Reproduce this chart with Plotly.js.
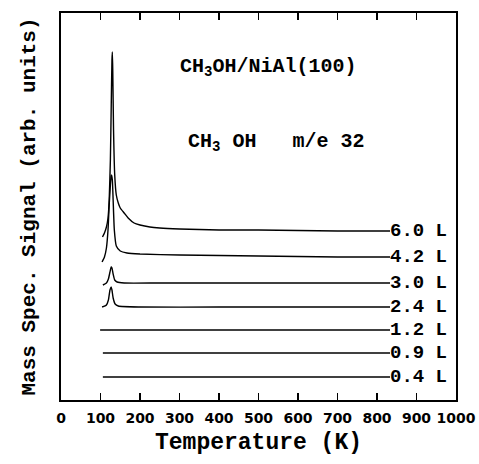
<!DOCTYPE html>
<html>
<head>
<meta charset="utf-8">
<script src="https://cdn.plot.ly/plotly-3.0.1.min.js"></script>
<style>html,body{margin:0;padding:0;background:#fff;}</style>
</head>
<body>
<div id="chart" style="width:479px;height:464px;"></div>
<script>
// Exposure labels (Langmuir)
const exposureLabels = ["6.0 L", "4.2 L", "3.0 L", "2.4 L", "1.2 L", "0.9 L", "0.4 L"];

// Temperature (K) and offset signal (arb. units) for each curve
const temp60 = [105, 110, 115, 119, 122, 125, 127, 129, 130, 131, 133, 136, 140, 145, 150, 160, 170, 185, 200, 225, 250, 300, 350, 400, 500, 600, 700, 800, 833];
const sig60  = [163, 167, 173, 182, 200, 240, 290, 340, 348, 330, 270, 225, 205, 197, 192, 187, 182, 177, 175, 173, 172, 171, 170.5, 170, 170, 169.5, 169, 169, 169];

const temp42 = [104, 110, 115, 119, 122, 125, 127, 128, 130, 132, 135, 140, 150, 167, 200, 300, 500, 700, 833];
const sig42  = [138, 143, 152, 170, 195, 215, 224, 225, 220, 200, 170, 154, 149, 147, 146, 145, 144, 143, 143];

const temp30 = [106, 115, 120, 124, 127, 129, 132, 136, 142, 160, 250, 500, 700, 833];
const sig30  = [115, 117, 121, 128, 133, 132, 126, 120, 118, 117, 117, 117, 117, 117];

const temp24 = [104, 115, 120, 124, 127, 129, 132, 137, 145, 200, 400, 600, 833];
const sig24  = [93, 95, 100, 110, 113, 110, 102, 96, 94, 93, 93, 93, 93];

const temp12 = [99, 200, 400, 600, 833];
const sig12  = [70, 70, 70, 70, 70];

const temp09 = [106, 200, 400, 600, 833];
const sig09  = [47, 47, 47, 47, 47];

const temp04 = [106, 200, 400, 600, 833];
const sig04  = [23, 23, 23, 23, 23];

const xTickVals = [0, 100, 200, 300, 400, 500, 600, 700, 800, 900, 1000];
const xTickText = ["0", "100", "200", "300", "400", "500", "600", "700", "800", "900", "1000"];

const curves = [
  [temp60, sig60], [temp42, sig42], [temp30, sig30], [temp24, sig24],
  [temp12, sig12], [temp09, sig09], [temp04, sig04]
];

const traces = curves.map(function (c) {
  return {x: c[0], y: c[1], mode: "lines", type: "scatter",
          line: {color: "#000", width: 1.4, shape: "spline", smoothing: 0.5},
          hoverinfo: "skip", showlegend: false};
});

const monoFont = "Liberation Mono, Courier New, monospace";
const labelFont = {family: monoFont, size: 19, color: "#000", weight: "bold"};

const annotations = curves.map(function (c, i) {
  return {x: c[0][c[0].length - 1], y: c[1][c[1].length - 1], xref: "x", yref: "y",
          text: exposureLabels[i], showarrow: false, xanchor: "left", yanchor: "middle",
          xshift: -2, font: labelFont};
});

annotations.push({x: 0.525, y: 0.86, xref: "paper", yref: "paper", showarrow: false,
  text: "CH<sub>3</sub>OH/NiAl(100)", xanchor: "center", yanchor: "middle",
  font: {family: monoFont, size: 20, color: "#000", weight: "bold"}});
annotations.push({x: 0.545, y: 0.665, xref: "paper", yref: "paper", showarrow: false,
  text: "CH<sub>3</sub> OH&nbsp;&nbsp; m/e 32", xanchor: "center", yanchor: "middle",
  font: {family: monoFont, size: 20, color: "#000", weight: "bold"}});

const layout = {
  width: 479, height: 464,
  margin: {l: 61, r: 23, t: 13, b: 64},
  paper_bgcolor: "#fff", plot_bgcolor: "#fff",
  xaxis: {
    range: [0, 1000], tickvals: xTickVals, ticktext: xTickText,
    ticks: "inside", ticklen: 7, tickwidth: 1.5, tickcolor: "#000",
    showline: true, linecolor: "#000", linewidth: 1.6, mirror: "ticks",
    showgrid: false, zeroline: false, ticklabelstandoff: 5,
    tickfont: {family: "DejaVu Sans", size: 14, color: "#000", weight: "bold"},
    title: {text: "Temperature (K)", standoff: 7,
            font: {family: monoFont, size: 23, color: "#000", weight: "bold"}}
  },
  yaxis: {
    range: [0, 387], showticklabels: false, ticks: "",
    showline: true, linecolor: "#000", linewidth: 1.6, mirror: true,
    showgrid: false, zeroline: false,
    title: {text: "Mass Spec. Signal (arb. units)", standoff: 18,
            font: {family: monoFont, size: 21, color: "#000", weight: "bold"}}
  },
  annotations: annotations
};

Plotly.newPlot("chart", traces, layout, {staticPlot: true, displayModeBar: false});
</script>
</body>
</html>
